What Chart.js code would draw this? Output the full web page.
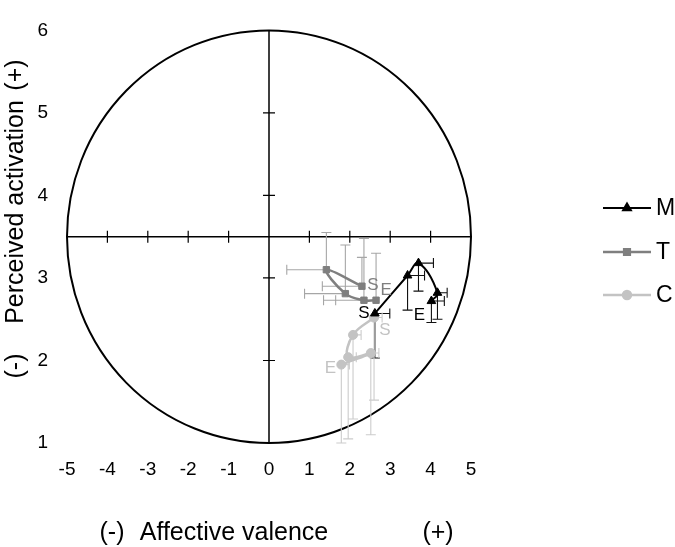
<!DOCTYPE html>
<html>
<head>
<meta charset="utf-8">
<script src="https://cdn.jsdelivr.net/npm/chart.js@4/dist/chart.umd.min.js"></script>
<style>
html,body{margin:0;padding:0;background:#fff;}
canvas{display:block;}
</style>
</head>
<body>
<canvas id="c" width="675" height="547"></canvas>
<script>
// ---- data ----
const seriesNames = ['M', 'T', 'C'];
const mX = [2.62, 3.43, 3.70, 4.17, 4.02];
const mY = [2.57, 3.03, 3.18, 2.82, 2.72];
const mXErr = [0.37, 0.42, 0.37, 0.24, 0.32];     // to the right
const mYErr = [-0.54, -0.42, -0.34, -0.32, -0.26]; // downward
const tX = [2.30, 1.42, 1.89, 2.35, 2.65];
const tY = [2.90, 3.10, 2.81, 2.73, 2.73];
const tXErr = [-0.98, -0.98, -1.01, -1.00, -1.00]; // to the left
const tYErr = [0.35, 0.45, 0.59, 0.75, 0.57];      // upward
const cX = [2.60, 2.08, 1.96, 2.52, 1.79];
const cY = [2.52, 2.31, 2.04, 2.09, 1.95];
const cXErr = [0.20, 0.20, 0.20, 0.20, 0.20];
const cYErr = [-1.00, -1.02, -0.99, -0.99, -0.95];
const xTicks = [-5, -4, -3, -2, -1, 0, 1, 2, 3, 4, 5];
const yTicks = [1, 2, 3, 4, 5, 6];
const axisCrossY = 3.5;
const startLabel = 'S', endLabel = 'E';

const FONT = "'Liberation Sans', Arial, sans-serif";

function pts(xs, ys) { return xs.map((x, i) => ({x: x, y: ys[i]})); }

const datasets = [
  {label: seriesNames[0], data: pts(mX, mY), xErr: mXErr, yErr: mYErr,
   borderColor: '#000000', backgroundColor: '#000000', barColor: '#111111',
   pointStyle: 'triangle', pointRadius: 5, borderWidth: 2,
   lbl: [[-11, 0], [-12, 14]]},
  {label: seriesNames[1], data: pts(tX, tY), xErr: tXErr, yErr: tYErr,
   borderColor: '#7f7f7f', backgroundColor: '#7f7f7f', barColor: '#a6a6a6',
   pointStyle: 'rect', pointRadius: 4.5, borderWidth: 2.5,
   lbl: [[11, -1], [10, -10]]},
  {label: seriesNames[2], data: pts(cX, cY), xErr: cXErr, yErr: cYErr,
   borderColor: '#c3c3c3', backgroundColor: '#c3c3c3', barColor: '#cccccc',
   pointStyle: 'circle', pointRadius: 4.5, borderWidth: 2.5,
   lbl: [[11, 13], [-11, 4]]}
];
datasets.forEach(d => { d.showLine = true; d.tension = 0.4; d.pointBorderWidth = 1; d.pointHoverRadius = d.pointRadius; });

const framePlugin = {
  id: 'frame',
  beforeDraw(chart) {
    const c = chart.ctx;
    c.save(); c.fillStyle = '#fff'; c.fillRect(0, 0, chart.width, chart.height); c.restore();
  },
  beforeDatasetsDraw(chart) {
    const c = chart.ctx, xs = chart.scales.x, ys = chart.scales.y;
    const x0 = xs.getPixelForValue(0), yc = ys.getPixelForValue(axisCrossY);
    const xl = xs.getPixelForValue(xTicks[0]), xr = xs.getPixelForValue(xTicks[xTicks.length - 1]);
    const yt = ys.getPixelForValue(yTicks[yTicks.length - 1]), yb = ys.getPixelForValue(yTicks[0]);
    c.save();
    c.strokeStyle = '#000';
    c.lineWidth = 2;
    c.beginPath();
    c.ellipse(x0, yc, (xr - xl) / 2, (yb - yt) / 2, 0, 0, Math.PI * 2);
    c.stroke();
    c.lineWidth = 1.5;
    c.beginPath();
    c.moveTo(xl, yc); c.lineTo(xr, yc);
    c.moveTo(x0, yt); c.lineTo(x0, yb);
    c.stroke();
    c.lineWidth = 1.2;
    c.beginPath();
    xTicks.forEach(v => {
      if (v === 0 || v === xTicks[0] || v === xTicks[xTicks.length - 1]) return;
      const p = xs.getPixelForValue(v);
      c.moveTo(p, yc - 6); c.lineTo(p, yc + 6);
    });
    yTicks.forEach(v => {
      if (v === yTicks[0] || v === yTicks[yTicks.length - 1]) return;
      const p = ys.getPixelForValue(v);
      c.moveTo(x0 - 6, p); c.lineTo(x0 + 6, p);
    });
    c.stroke();
    chart.data.datasets.forEach(ds => {
      c.strokeStyle = ds.barColor;
      c.lineWidth = 1.1;
      c.beginPath();
      ds.data.forEach((p, i) => {
        const px = xs.getPixelForValue(p.x), py = ys.getPixelForValue(p.y);
        const ex = xs.getPixelForValue(p.x + ds.xErr[i]);
        const ey = ys.getPixelForValue(p.y + ds.yErr[i]);
        c.moveTo(px, py); c.lineTo(ex, py);
        c.moveTo(ex, py - 5); c.lineTo(ex, py + 5);
        c.moveTo(px, py); c.lineTo(px, ey);
        c.moveTo(px - 5, ey); c.lineTo(px + 5, ey);
      });
      c.stroke();
    });
    c.restore();
  },
  afterDraw(chart) {
    const c = chart.ctx, xs = chart.scales.x, ys = chart.scales.y;
    c.save();
    c.font = '17px ' + FONT;
    c.textAlign = 'center'; c.textBaseline = 'middle';
    chart.data.datasets.forEach(ds => {
      const first = ds.data[0], last = ds.data[ds.data.length - 1];
      c.fillStyle = ds.borderColor;
      c.fillText(startLabel, xs.getPixelForValue(first.x) + ds.lbl[0][0], ys.getPixelForValue(first.y) + ds.lbl[0][1]);
      c.fillText(endLabel, xs.getPixelForValue(last.x) + ds.lbl[1][0], ys.getPixelForValue(last.y) + ds.lbl[1][1]);
    });
    c.fillStyle = '#000';
    c.font = '25px ' + FONT;
    c.fillText('(-)', 112, 533);
    c.fillText('Affective valence', 234, 533);
    c.fillText('(+)', 438, 533);
    c.save();
    c.translate(16, 0);
    c.rotate(-Math.PI / 2);
    c.fillText('(-)', -366, 0);
    c.fillText('Perceived activation', -212, 0);
    c.fillText('(+)', -75, 0);
    c.restore();
    const ly = [208, 252, 295];
    c.font = '23px ' + FONT;
    c.textAlign = 'left';
    chart.data.datasets.forEach((ds, i) => {
      c.strokeStyle = ds.borderColor;
      c.lineWidth = ds.borderWidth;
      c.beginPath(); c.moveTo(603, ly[i]); c.lineTo(651, ly[i]); c.stroke();
      c.fillStyle = ds.backgroundColor;
      Chart.helpers.drawPoint(c, {pointStyle: ds.pointStyle, radius: ds.pointRadius - 0.5, borderWidth: 1, rotation: 0}, 627, ly[i]);
      c.fillStyle = '#000';
      c.fillText(ds.label, 656, ly[i] + 1);
    });
    c.restore();
  }
};

new Chart(document.getElementById('c'), {
  type: 'scatter',
  data: {datasets: datasets},
  plugins: [framePlugin],
  options: {
    responsive: false,
    animation: false,
    layout: {padding: {left: 0, top: 8, right: 204, bottom: 0}},
    plugins: {legend: {display: false}, tooltip: {enabled: false}},
    scales: {
      x: {
        type: 'linear', min: xTicks[0], max: xTicks[xTicks.length - 1],
        afterBuildTicks: s => { s.ticks = xTicks.map(v => ({value: v})); },
        ticks: {padding: 15, color: '#000', font: {size: 19, family: FONT}},
        grid: {display: false, drawTicks: false}, border: {display: false},
        afterFit: s => { s.height = 104; }
      },
      y: {
        type: 'linear', min: yTicks[0], max: yTicks[yTicks.length - 1],
        afterBuildTicks: s => { s.ticks = yTicks.map(v => ({value: v})); },
        ticks: {padding: 19, color: '#000', font: {size: 19, family: FONT}},
        grid: {display: false, drawTicks: false}, border: {display: false},
        afterFit: s => { s.width = 67; }
      }
    }
  }
});
</script>
</body>
</html>
